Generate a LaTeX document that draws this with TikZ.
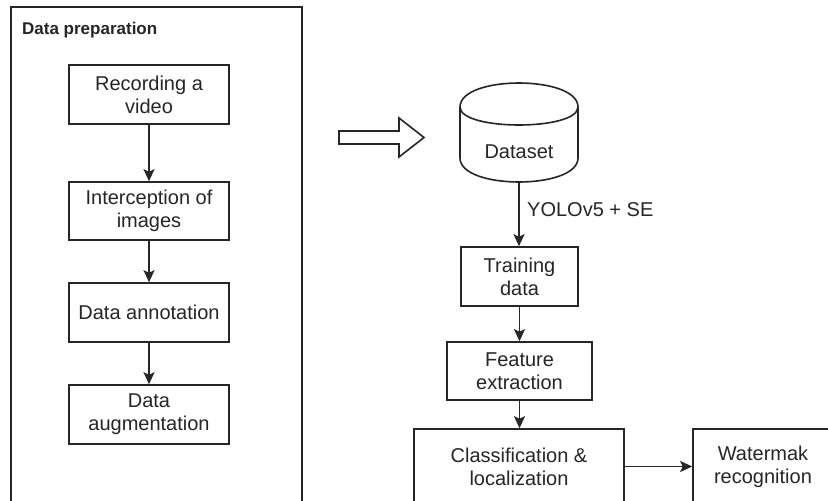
\documentclass[tikz,border=0pt]{standalone}
\usepackage{fontspec}
\setmainfont{Liberation Sans}
\usetikzlibrary{arrows.meta}
\definecolor{ink}{HTML}{262626}
\begin{document}
\begin{tikzpicture}[x=1pt,y=-1pt,
  stepbox/.style={draw=ink,line width=1.6pt,text=ink,align=center,inner sep=2pt,
    font=\fontsize{20}{23}\selectfont},
  flow/.style={draw=ink,line width=1.6pt,-{Stealth[length=12pt,width=11pt,inset=2.5pt]}},
  lbl/.style={text=ink,font=\fontsize{20}{23}\selectfont,inner sep=0pt}]
\useasboundingbox (0,0) rectangle (828,501);
\fill[white] (0,0) rectangle (828,501);
% outer frame
\node[draw=ink,line width=1.6pt,minimum width=291pt,minimum height=503pt,inner sep=0pt] (frame) at (156.5,258.5) {};
\node[anchor=west,inner sep=0pt,text=ink,font=\fontsize{17}{20}\selectfont\bfseries] (title) at (22,30) {Data preparation};
% left column
\node[stepbox,minimum width=160pt,minimum height=59pt] (rec) at (149,94.5) {Recording a\\video};
\node[stepbox,minimum width=160pt,minimum height=58pt] (intc) at (149,211) {Interception of\\images};
\node[stepbox,minimum width=160pt,minimum height=59pt] (annot) at (149,312.5) {Data annotation};
\node[stepbox,minimum width=160pt,minimum height=59pt] (augm) at (149,414.5) {Data\\augmentation};
\draw[flow] (rec) -- (intc);
\draw[flow] (intc) -- (annot);
\draw[flow] (annot) -- (augm);
% hollow arrow
\draw[draw=ink,line width=1.6pt,line join=miter,fill=white]
  (339,131) -- (399,131) -- (399,118) -- (424,137.5) -- (399,157) -- (399,144) -- (339,144) -- cycle;
% cylinder
\draw[draw=ink,line width=1.6pt,fill=white]
  (460,107) .. controls (460,75) and (578,75) .. (578,107) -- (578,158)
  .. controls (578,190) and (460,190) .. (460,158) -- cycle;
\draw[draw=ink,line width=1.6pt] (460,107) .. controls (460,131) and (578,131) .. (578,107);
\node[minimum width=118pt,minimum height=99pt,inner sep=0pt] (dataset) at (519,132.5) {};
\node[lbl] (dstext) at (519,152) {Dataset};
% right column
\node[stepbox,minimum width=117pt,minimum height=59pt] (train) at (519.5,276.5) {Training\\data};
\node[stepbox,minimum width=145pt,minimum height=58pt] (feat) at (519.5,371) {Feature\\extraction};
\node[stepbox,minimum width=210pt,minimum height=75pt] (cls) at (519,466.5) {Classification \&\\localization};
\node[stepbox,minimum width=140pt,minimum height=75pt] (wm) at (763,466.5) {Watermak\\recognition};
\draw[flow] (dataset.south) -- (train.north -| dataset.south);
\node[lbl,anchor=west] (yolo) at (527,210) {YOLOv5 + SE};
\draw[flow] (train) -- (train.south |- feat.north);
\draw[flow] (feat) -- (feat.south |- cls.north);
\draw[flow] (cls) -- (wm);
\end{tikzpicture}
\end{document}
